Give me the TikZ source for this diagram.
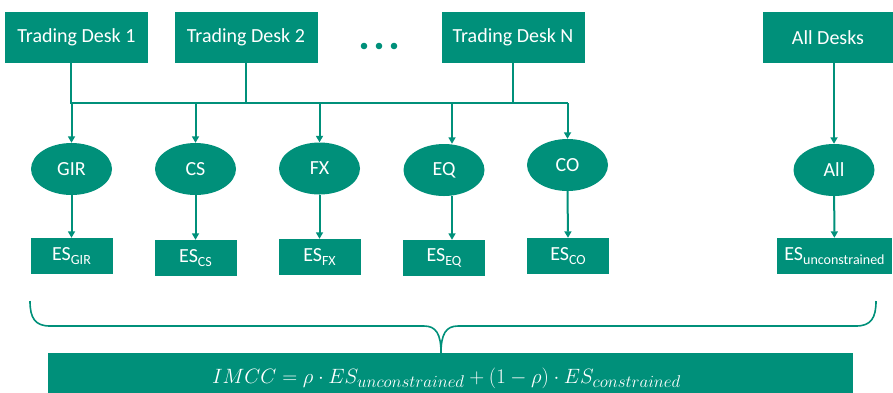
\documentclass[tikz,border=0pt]{standalone}
\usepackage{fontspec}
\setmainfont{Carlito}
\usetikzlibrary{arrows.meta,shapes.geometric}

\definecolor{deskteal}{HTML}{00907A}

\newcommand{\lineWidth}{2pt}
\newcommand{\braceWidth}{1.6pt}
\newcommand{\deskY}{37.5}
\newcommand{\busY}{103}
\newcommand{\esSub}[1]{\raisebox{-0.2em}{\fontsize{14}{14}\selectfont #1}}
\newcommand{\mathSub}[1]{\scalebox{0.82}{$#1$}}

\tikzset{
  deskbox/.style={rectangle, fill=deskteal, text=white, inner sep=0pt,
    minimum width=143pt, minimum height=51pt, font=\fontsize{20}{24}\selectfont},
  riskclass/.style={ellipse, fill=deskteal, text=white, inner sep=0pt,
    minimum width=81pt, minimum height=52pt, font=\fontsize{20}{24}\selectfont},
  esbox/.style={rectangle, fill=deskteal, text=white, inner sep=0pt,
    minimum width=82pt, minimum height=36pt, font=\fontsize{20}{24}\selectfont},
  formulabox/.style={rectangle, fill=deskteal, text=white, inner sep=0pt,
    minimum width=805pt, minimum height=50pt, font=\fontsize{19}{22}\selectfont},
  link/.style={draw=deskteal, line width=\lineWidth},
  feed/.style={link, -{Triangle[width=7pt,length=6.5pt]}},
  brace/.style={draw=deskteal, line width=\braceWidth},
}

\begin{document}
\begin{tikzpicture}[x=1pt, y=-1pt]
        \useasboundingbox (0,0) rectangle (893,392);

        % Trading desks
        \node[deskbox] (desk1) at (76.5,\deskY) {Trading Desk 1};
        \node[deskbox] (desk2) at (246,\deskY) {Trading Desk 2};
        \node[deskbox] (deskN) at (513,\deskY) {Trading Desk N};
        \node[deskbox, minimum width=130pt] (allDesks) at (828,\deskY) {All Desks};
        \foreach \dotX in {364,379,394}
            \fill[deskteal] (\dotX,46) circle (3.3);

        % Risk classes
        \node[riskclass] (gir) at (71.5,169) {GIR};
        \node[riskclass] (cs) at (195.5,169) {CS};
        \node[riskclass] (fx) at (319.5,168.5) {FX};
        \node[riskclass] (eq) at (444,170) {EQ};
        \node[riskclass] (co) at (567.5,165) {CO};
        \node[riskclass] (all) at (834,170) {All};

        % Expected shortfall per class
        \node[esbox] (esGIR) at (71.5,256) {ES\esSub{GIR}};
        \node[esbox] (esCS) at (195.5,258) {ES\esSub{CS}};
        \node[esbox] (esFX) at (319.5,257) {ES\esSub{FX}};
        \node[esbox] (esEQ) at (444,258) {ES\esSub{EQ}};
        \node[esbox] (esCO) at (568,256) {ES\esSub{CO}};
        \node[esbox, minimum width=115pt] (esAll) at (834.5,256) {ES\esSub{unconstrained}};

        % Capital charge
        \node[formulabox] (imcc) at (450.5,378) {\hspace{-8pt}\raisebox{2pt}{\scalebox{1.2}{$IMCC = \rho\cdot ES_{\mathSub{unconstrained}} + (1-\rho)\cdot ES_{\mathSub{constrained}}$}}};

        % Draw bus from desks to classes
        \coordinate (busL) at (71,\busY);
        \coordinate (busR) at (568,\busY);
        \coordinate (eqTap) at (452,\busY);
        \draw[link] (desk1.south -| busL) -- (busL) -- (busR);
        \draw[link] (desk2.south) -- (desk2.south |- busL);
        \draw[link] (deskN.south) -- (deskN.south |- busL);
        \foreach \riskName in {gir,cs,fx,co}
            \draw[feed] (\riskName.north |- busL) -- (\riskName.north);
        \draw[feed] (eqTap) -- (eqTap |- eq.north);

        % Draw classes to expected shortfall
        \foreach \riskName/\esName in {gir/esGIR,cs/esCS,fx/esFX,co/esCO}
            \draw[feed] (\riskName.south) -- (\esName.north);
        \draw[feed] (eqTap |- eq.south) -- (eqTap |- esEQ.north);

        % Draw all desks branch
        \draw[feed] (allDesks.south -| all) -- (all.north);
        \draw[feed] (all) -- (esAll);

        % Draw brace
        \coordinate (braceL) at (30,301);
        \coordinate (braceR) at (876,301);
        \coordinate (braceTip) at (441,353);
        \draw[brace] (braceL) .. controls (30,318) and (35,326) .. (50,326) -- (424,326)
            .. controls (436,326) and (441,334) .. (braceTip)
            .. controls (441,334) and (446,326) .. (458,326) -- (856,326)
            .. controls (871,326) and (876,318) .. (braceR);
    \end{tikzpicture}
\end{document}
